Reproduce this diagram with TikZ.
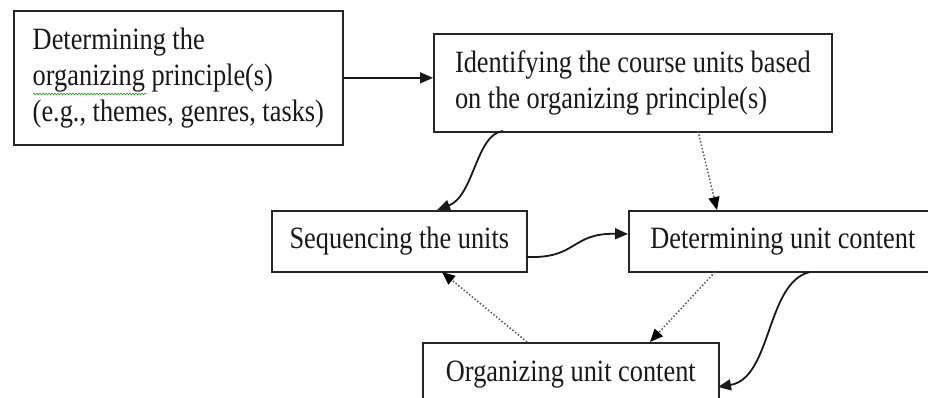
\documentclass[tikz,border=0pt]{standalone}
\usepackage{fontspec}
\setmainfont{Liberation Serif}[FakeStretch=0.85]
\usetikzlibrary{arrows.meta,decorations.pathmorphing}

\tikzset{
  stepbox/.style={draw=black!85, line width=1.7pt, fill=white, anchor=north west,
    inner xsep=0pt, inner ysep=0pt, align=left,
    font=\fontsize{31}{36}\selectfont, text=black!90},
  flow/.style={draw=black!90, line width=1.8pt,
    -{Triangle[length=13pt,width=11pt]}},
  hint/.style={draw=black!65, line width=1.5pt, dotted,
    -{Triangle[length=13pt,width=11pt,color=black,fill=black]}}
}

\begin{document}
\begin{tikzpicture}[x=1pt,y=-1pt]
  \useasboundingbox (0,0) rectangle (928,398);
  \clip (0,0) rectangle (928,398);
  \fill[white] (0,0) rectangle (928,398);

  % boxes (top-left corner, width, height); text is centred as a block
  \node[stepbox, minimum width=329pt, minimum height=134pt]
    (principle) at (13,10)
    {Determining the\\organizing principle(s)\\(e.g., themes, genres, tasks)};
  \node[stepbox, minimum width=398pt, minimum height=98pt]
    (units) at (433,33)
    {Identifying the course units based\\on the organizing principle(s)};
  \node[stepbox, minimum width=255pt, minimum height=61pt]
    (sequence) at (271,210) {Sequencing the units};
  \node[stepbox, minimum width=308pt, minimum height=61pt]
    (content) at (628,210) {Determining unit content};
  \node[stepbox, minimum width=296pt, minimum height=64pt]
    (organize) at (422,342) {Organizing unit content};

  % spell-check squiggle under "organizing"
  \coordinate (sqA) at (33,94);
  \coordinate (sqB) at (147,94);
  \draw[green!55!black, line width=0.5pt,
        decorate, decoration={snake, amplitude=0.9pt, segment length=3pt}]
    (sqA) -- (sqB);

  % anchor points on the box edges
  \coordinate (uA) at (503,131);
  \coordinate (uB) at (698,131);
  \coordinate (sTop) at (437,210);
  \coordinate (sBot) at (442,272);
  \coordinate (sR) at (526,257);
  \coordinate (cL) at (628,234);
  \coordinate (cTop) at (717,210);
  \coordinate (cB1) at (715,272);
  \coordinate (cB2) at (810,272);
  \coordinate (oTop1) at (527,342);
  \coordinate (oTop2) at (650,342);
  \coordinate (oR) at (718,387);

  % connectors
  \draw[flow] (principle.east) -- (principle.east -| units.west);
  \draw[flow] (uA) .. controls (476,134) and (474,196) .. (sTop);
  \draw[hint] (uB) -- (cTop);
  \draw[flow] (sR) .. controls (578,259) and (570,233) .. (cL);
  \draw[hint] (cB1) -- (oTop2);
  \draw[hint] (oTop1) -- (sBot);
  \draw[flow] (cB2) .. controls (766,282) and (772,378) .. (oR);
\end{tikzpicture}
\end{document}
